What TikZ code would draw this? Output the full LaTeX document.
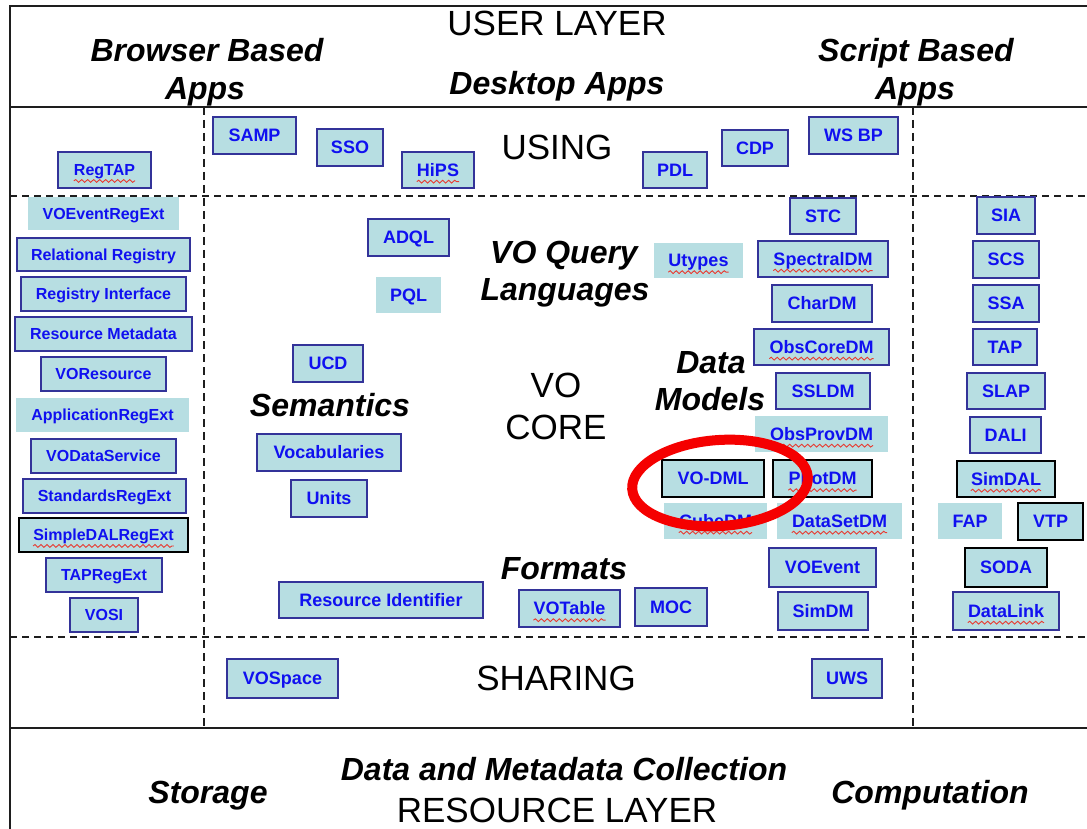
\documentclass[tikz,border=0pt]{standalone}
\usepackage{fontspec}
\setmainfont{Liberation Sans}
\usetikzlibrary{decorations.pathmorphing}
\definecolor{boxfill}{RGB}{183,222,226}
\definecolor{boxline}{RGB}{51,51,153}
\definecolor{textblue}{RGB}{16,16,240}
\definecolor{wavered}{RGB}{232,58,48}
\definecolor{ringred}{RGB}{245,0,0}
\definecolor{edgegray}{RGB}{30,30,30}

\begin{document}
\begin{tikzpicture}[x=1pt,y=-1pt,
    vobox/.style={rectangle, draw=boxline, fill=boxfill, line width=1.8pt, inner sep=0pt,
                  text=textblue, font=\fontsize{18}{20}\selectfont\bfseries,
                  text height=12.9pt, text depth=0pt},
    regbox/.style={vobox, font=\fontsize{16}{18}\selectfont\bfseries, text height=11.5pt},
    nolines/.style={draw=none},
    darkline/.style={draw=black, line width=2.2pt},
    sz/.style 2 args={minimum width=#1pt, minimum height=#2pt},
    lbl/.style={inner sep=0pt, text=textblue, font=\fontsize{18}{20}\selectfont\bfseries,
                text height=12.9pt, text depth=0pt},
    lblsm/.style={lbl, font=\fontsize{16}{18}\selectfont\bfseries, text height=11.5pt},
    squig/.style={draw=wavered, line width=0.9pt, decorate,
                  decoration={snake, amplitude=1.4pt, segment length=6pt}},
    wavy/.style={append after command={([yshift=-5pt]\tikzlastnode.south west)
                  edge[squig] ([yshift=-5pt]\tikzlastnode.south east)}},
    layer/.style={font=\fontsize{35}{38}\selectfont, anchor=base, inner sep=0pt},
    heading/.style={font=\fontsize{32}{34}\selectfont\bfseries\itshape, anchor=base, inner sep=0pt},
    solidline/.style={draw=edgegray, line width=2pt},
    dashline/.style={draw=edgegray, line width=1.8pt, dash pattern=on 7pt off 5pt},
    vdash/.style={draw=edgegray, line width=1.5pt, dash pattern=on 8pt off 5pt},
    redring/.style={draw=ringred, line width=10pt}]

    \useasboundingbox (0,0) rectangle (1087,829);

    \draw[solidline] (1087,6) -- (10,6) -- (10,829);
    \draw[solidline] (10,107) -- (1087,107);
    \draw[solidline] (10,728) -- (1087,728);
    \draw[dashline] (10,196) -- (1087,196);
    \draw[dashline] (10,637) -- (1087,637);
    \draw[vdash] (204,107) -- (204,728);
    \draw[vdash] (913,107) -- (913,728);

    \node[layer] (userlayer) at (557,36) {USER LAYER};
    \node[heading] (browser) at (207,62) {Browser Based};
    \node[heading] (browserapps) at (205,100) {Apps};
    \node[heading] (desktop) at (557,95) {Desktop Apps};
    \node[heading] (script) at (916,62) {Script Based};
    \node[heading] (scriptapps) at (915,100) {Apps};
    \node[layer] (using) at (557,160) {USING};
    \node[heading] (query) at (564,263) {VO Query};
    \node[heading] (languages) at (565,300) {Languages};
    \node[heading] (semantics) at (330,416) {Semantics};
    \node[layer] (vo) at (556,397) {VO};
    \node[layer] (core) at (556,439) {CORE};
    \node[heading] (data) at (711,373) {Data};
    \node[heading] (models) at (710,410) {Models};
    \node[heading] (formats) at (564,579) {Formats};
    \node[layer] (sharing) at (556,690) {SHARING};
    \node[heading] (collection) at (564,780) {Data and Metadata Collection};
    \node[heading] (storage) at (208,803) {Storage};
    \node[heading] (computation) at (930,803) {Computation};
    \node[layer] (resourcelayer) at (557,822) {RESOURCE LAYER};

    \node[vobox, sz={83}{37}] (samp) at (254.5,135.5) {SAMP};
    \node[vobox, sz={66}{37}] (sso) at (350,147.5) {SSO};
    \node[vobox, sz={72}{36}] (hips) at (438,170) {};
    \node[lbl, wavy] (hipst) at (hips) {HiPS};
    \node[vobox, sz={64}{36}] (pdl) at (675,170) {PDL};
    \node[vobox, sz={66}{36}] (cdp) at (755,148) {CDP};
    \node[vobox, sz={89}{37}] (wsbp) at (853.5,135.5) {WS BP};
    \node[regbox, sz={93}{36}] (regtap) at (104.5,170) {};
    \node[lblsm, wavy] (regtapt) at (regtap) {RegTAP};

    \node[regbox, nolines, sz={151}{33}] (voeventregext) at (103.5,213.5) {VOEventRegExt};
    \node[regbox, sz={173}{33}] (relreg) at (103.5,254.5) {Relational Registry};
    \node[regbox, sz={165}{34}] (reginterface) at (103.5,294) {Registry Interface};
    \node[regbox, sz={177}{34}] (resmeta) at (103.5,334) {Resource Metadata};
    \node[regbox, sz={125}{34}] (voresource) at (103.5,374) {VOResource};
    \node[regbox, nolines, sz={173}{34}] (appregext) at (102.5,415) {ApplicationRegExt};
    \node[regbox, sz={145}{34}] (vodataservice) at (103.5,456) {VODataService};
    \node[regbox, sz={163}{34}] (stdregext) at (104.5,496) {StandardsRegExt};
    \node[regbox, darkline, sz={169}{34}] (simpledal) at (103.5,535) {};
    \node[lblsm, wavy] (simpledalt) at (simpledal) {SimpleDALRegExt};
    \node[regbox, sz={116}{34}] (tapregext) at (104,575) {TAPRegExt};
    \node[regbox, sz={68}{34}] (vosi) at (104,615) {VOSI};

    \node[vobox, sz={81}{37}] (adql) at (408.5,237.5) {ADQL};
    \node[vobox, nolines, sz={65}{36}] (pql) at (408.5,295) {PQL};
    \node[vobox, sz={70}{37}] (ucd) at (328,363.5) {UCD};
    \node[vobox, sz={144}{37}] (vocab) at (329,452.5) {Vocabularies};
    \node[vobox, sz={76}{37}] (units) at (329,498.5) {Units};
    \node[vobox, sz={204}{36}] (resid) at (381,600) {Resource Identifier};
    \node[vobox, sz={101}{37}] (votable) at (569.5,608.5) {};
    \node[lbl, wavy] (votablet) at (votable) {VOTable};
    \node[vobox, sz={72}{38}] (moc) at (671,607) {MOC};
    \node[vobox, nolines, sz={89}{35}] (utypes) at (698.5,260.5) {};
    \node[lbl, wavy] (utypest) at (utypes) {Utypes};

    \node[vobox, sz={66}{36}] (stc) at (823,216) {STC};
    \node[vobox, sz={130}{36}] (spectraldm) at (823,259) {};
    \node[lbl, wavy] (spectraldmt) at (spectraldm) {SpectralDM};
    \node[vobox, sz={100}{37}] (chardm) at (822,303.5) {CharDM};
    \node[vobox, sz={135}{36}] (obscoredm) at (821.5,347) {};
    \node[lbl, wavy] (obscoredmt) at (obscoredm) {ObsCoreDM};
    \node[vobox, sz={94}{36}] (ssldm) at (823,391) {SSLDM};
    \node[vobox, nolines, sz={133}{36}] (obsprovdm) at (821.5,434) {};
    \node[lbl, wavy] (obsprovdmt) at (obsprovdm) {ObsProvDM};
    \node[vobox, darkline, sz={102}{37}] (vodml) at (713,478.5) {VO-DML};
    \node[vobox, darkline, sz={99}{37}] (photdm) at (822.5,478.5) {};
    \node[lbl, wavy] (photdmt) at (photdm) {PhotDM};
    \node[vobox, nolines, sz={103}{36}] (cubedm) at (715.5,521) {};
    \node[lbl, wavy] (cubedmt) at (cubedm) {CubeDM};
    \node[vobox, nolines, sz={125}{36}] (datasetdm) at (839.5,521) {};
    \node[lbl, wavy] (datasetdmt) at (datasetdm) {DataSetDM};
    \node[vobox, sz={107}{39}] (voevent) at (822.5,567.5) {VOEvent};
    \node[vobox, sz={90}{38}] (simdm) at (823,611) {SimDM};

    \node[vobox, sz={58}{37}] (sia) at (1006,215.5) {SIA};
    \node[vobox, sz={66}{37}] (scs) at (1006,259.5) {SCS};
    \node[vobox, sz={66}{37}] (ssa) at (1006,303.5) {SSA};
    \node[vobox, sz={64}{36}] (tap) at (1005,347) {TAP};
    \node[vobox, sz={78}{36}] (slap) at (1006,391) {SLAP};
    \node[vobox, sz={71}{36}] (dali) at (1005.5,435) {DALI};
    \node[vobox, darkline, sz={98}{36}] (simdal) at (1006,479) {};
    \node[lbl, wavy] (simdalt) at (simdal) {SimDAL};
    \node[vobox, nolines, sz={64}{36}] (fap) at (970,521) {FAP};
    \node[vobox, darkline, sz={65}{37}] (vtp) at (1050.5,521.5) {VTP};
    \node[vobox, darkline, sz={82}{39}] (soda) at (1006,567.5) {SODA};
    \node[vobox, sz={106}{38}] (datalink) at (1006,611) {};
    \node[lbl, wavy] (datalinkt) at (datalink) {DataLink};

    \node[vobox, sz={111}{39}] (vospace) at (282.5,678.5) {VOSpace};
    \node[vobox, sz={70}{39}] (uws) at (847,678.5) {UWS};

    \draw[redring] (720,483) ellipse [x radius=88, y radius=43, rotate=4];
\end{tikzpicture}
\end{document}
